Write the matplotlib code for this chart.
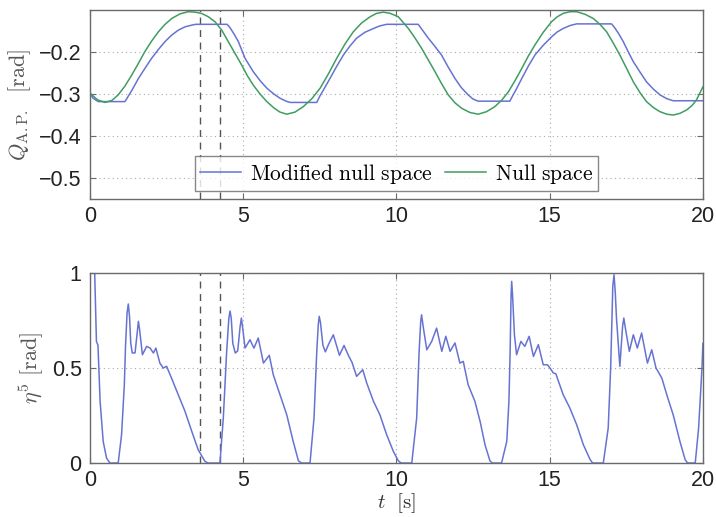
import numpy as np
import matplotlib
matplotlib.use("Agg")
import matplotlib.pyplot as plt

plt.rcParams['font.family'] = ['Liberation Sans', 'DejaVu Sans']
plt.rcParams['mathtext.fontset'] = 'cm'

#-------------------------------------------------------------------------------
# DATA
t_green = [0.0, 0.25, 0.49, 0.72, 0.92, 1.14, 1.36, 1.58, 1.79, 2.01, 2.23, 2.45,
           2.67, 2.94, 3.21, 3.43, 3.64, 3.86, 4.08, 4.30, 4.51, 4.73, 4.95, 5.14,
           5.33, 5.55, 5.77, 6.00, 6.20, 6.42, 6.69, 6.96, 7.24, 7.51, 7.78, 8.05,
           8.32, 8.59, 8.86, 9.14, 9.35, 9.57, 9.80, 10.06, 10.39, 10.60, 10.82,
           11.04, 11.26, 11.47, 11.69, 11.91, 12.13, 12.40, 12.67, 12.94, 13.21,
           13.43, 13.65, 13.87, 14.09, 14.30, 14.52, 14.79, 15.06, 15.25, 15.44,
           15.66, 15.88, 16.15, 16.42, 16.64, 16.86, 17.07, 17.29, 17.51, 17.73,
           17.95, 18.16, 18.38, 18.60, 18.82, 19.03, 19.25, 19.47, 19.65, 19.79, 20.0]
q_green = [-0.298, -0.314, -0.320, -0.315, -0.302, -0.281, -0.255, -0.227, -0.199,
           -0.174, -0.152, -0.134, -0.120, -0.109, -0.104, -0.105, -0.108, -0.116,
           -0.128, -0.148, -0.175, -0.203, -0.231, -0.257, -0.279, -0.300, -0.318,
           -0.333, -0.343, -0.348, -0.343, -0.330, -0.311, -0.286, -0.252, -0.215,
           -0.181, -0.152, -0.131, -0.116, -0.108, -0.105, -0.108, -0.116, -0.144,
           -0.166, -0.191, -0.219, -0.247, -0.275, -0.302, -0.321, -0.334, -0.344,
           -0.348, -0.342, -0.330, -0.315, -0.295, -0.268, -0.239, -0.210, -0.183,
           -0.153, -0.128, -0.116, -0.108, -0.104, -0.104, -0.110, -0.120, -0.134,
           -0.152, -0.178, -0.207, -0.239, -0.271, -0.297, -0.318, -0.332, -0.342,
           -0.348, -0.350, -0.346, -0.338, -0.327, -0.314, -0.283]

t_blue = [0.0, 0.10, 0.27, 1.14, 1.36, 1.58, 1.80, 2.01, 2.23, 2.45, 2.66, 2.88,
          3.10, 3.32, 3.45, 4.47, 4.55, 4.70, 4.84, 5.06, 5.33, 5.55, 5.77, 6.00,
          6.20, 6.40, 6.53, 7.40, 7.50, 7.62, 7.83, 8.05, 8.27, 8.48, 8.70, 8.97,
          9.25, 9.45, 9.68, 10.71, 10.80, 11.04, 11.25, 11.47, 11.69, 11.91, 12.12,
          12.34, 12.50, 12.67, 13.70, 13.80, 13.90, 14.09, 14.30, 14.52, 14.79,
          15.06, 15.25, 15.44, 15.66, 15.88, 17.02, 17.10, 17.25, 17.40, 17.56,
          17.73, 17.95, 18.16, 18.38, 18.60, 18.82, 19.03, 20.0]
q_blue = [-0.298, -0.310, -0.318, -0.318, -0.292, -0.263, -0.238, -0.215, -0.194,
          -0.175, -0.160, -0.148, -0.140, -0.136, -0.134, -0.134, -0.140, -0.157,
          -0.175, -0.215, -0.247, -0.268, -0.286, -0.300, -0.310, -0.317, -0.320,
          -0.320, -0.305, -0.290, -0.263, -0.234, -0.207, -0.186, -0.167, -0.153,
          -0.144, -0.138, -0.134, -0.134, -0.143, -0.167, -0.186, -0.207, -0.236,
          -0.263, -0.285, -0.302, -0.312, -0.317, -0.317, -0.303, -0.290, -0.263,
          -0.234, -0.207, -0.184, -0.164, -0.152, -0.144, -0.137, -0.133, -0.133,
          -0.140, -0.156, -0.175, -0.199, -0.223, -0.248, -0.271, -0.288, -0.302,
          -0.311, -0.316, -0.316]

t_eta = [0.15, 0.21, 0.26, 0.33, 0.43, 0.54, 0.65, 0.92, 1.03, 1.12, 1.16, 1.21,
         1.25, 1.29, 1.33, 1.38, 1.47, 1.55, 1.58, 1.62, 1.71, 1.85, 1.96, 2.07,
         2.15, 2.28, 2.39, 2.50, 2.66, 2.88, 3.10, 3.32, 3.53, 3.75, 3.85, 4.24,
         4.35, 4.46, 4.53, 4.57, 4.61, 4.66, 4.74, 4.82, 4.90, 4.94, 4.99, 5.06,
         5.22, 5.35, 5.49, 5.66, 5.85, 5.98, 6.20, 6.42, 6.63, 6.80, 6.90, 7.18,
         7.31, 7.40, 7.45, 7.48, 7.52, 7.60, 7.68, 7.78, 7.94, 8.14, 8.29, 8.43,
         8.55, 8.70, 8.90, 9.03, 9.25, 9.46, 9.68, 9.90, 10.06, 10.15, 10.50,
         10.66, 10.74, 10.79, 10.82, 10.88, 10.99, 11.15, 11.31, 11.48, 11.61,
         11.75, 11.91, 12.07, 12.18, 12.34, 12.56, 12.73, 12.89, 13.05, 13.12,
         13.43, 13.60, 13.67, 13.71, 13.74, 13.76, 13.79, 13.85, 13.92, 14.06,
         14.19, 14.33, 14.47, 14.63, 14.79, 14.93, 15.01, 15.12, 15.20, 15.44,
         15.66, 15.88, 16.10, 16.32, 16.40, 16.75, 16.91, 16.99, 17.06, 17.10,
         17.14, 17.18, 17.29, 17.38, 17.42, 17.47, 17.60, 17.73, 17.86, 18.00,
         18.19, 18.33, 18.47, 18.66, 18.82, 19.03, 19.25, 19.42, 19.50, 19.75,
         19.86, 19.97, 20.0]
eta = [1.02, 0.64, 0.62, 0.325, 0.114, 0.026, 0.0, 0.0, 0.149, 0.41, 0.62, 0.79,
       0.837, 0.77, 0.63, 0.579, 0.58, 0.70, 0.746, 0.70, 0.570, 0.614, 0.605,
       0.579, 0.605, 0.526, 0.50, 0.509, 0.447, 0.360, 0.272, 0.167, 0.070, 0.009,
       0.0, 0.0, 0.237, 0.588, 0.76, 0.80, 0.76, 0.63, 0.579, 0.59, 0.72, 0.763,
       0.70, 0.605, 0.649, 0.605, 0.658, 0.526, 0.567, 0.465, 0.36, 0.254, 0.114,
       0.012, 0.0, 0.0, 0.237, 0.588, 0.73, 0.772, 0.74, 0.62, 0.585, 0.623,
       0.675, 0.567, 0.619, 0.567, 0.53, 0.456, 0.491, 0.421, 0.325, 0.254,
       0.149, 0.061, 0.012, 0.0, 0.0, 0.237, 0.588, 0.74, 0.78, 0.71, 0.596, 0.64,
       0.71, 0.588, 0.667, 0.588, 0.632, 0.526, 0.535, 0.412, 0.325, 0.219,
       0.096, 0.012, 0.0, 0.0, 0.114, 0.325, 0.588, 0.88, 0.956, 0.88, 0.675,
       0.57, 0.64, 0.614, 0.667, 0.561, 0.623, 0.517, 0.517, 0.50, 0.474, 0.47,
       0.36, 0.289, 0.202, 0.096, 0.018, 0.0, 0.0, 0.184, 0.5, 0.93, 0.991, 0.90,
       0.763, 0.509, 0.72, 0.763, 0.71, 0.588, 0.675, 0.605, 0.684, 0.526, 0.596,
       0.50, 0.447, 0.36, 0.254, 0.114, 0.018, 0.0, 0.0, 0.184, 0.5, 0.63]

t_marks = [3.6, 4.25]          # dashed vertical lines
xticks = [0, 5, 10, 15, 20]
yticks_top = [-0.5, -0.4, -0.3, -0.2]
yticks_bot = [0, 0.5, 1]

blue = '#6673d2'
green = '#3f9d61'
frame = '#6a6a6a'
#-------------------------------------------------------------------------------


#-------------------------------------------------------------------------------
# AND PLOT !
fig = plt.figure(figsize=(7.16, 5.17), dpi=100)
ax1 = fig.add_axes([0.1257, 0.615, 0.856, 0.3656])
ax2 = fig.add_axes([0.1257, 0.1044, 0.856, 0.3675])

for ax in (ax1, ax2):
    ax.grid(True, linestyle=(0, (1, 3)), color='#aaaaaa', linewidth=0.8)
    for tm in t_marks:
        ax.axvline(tm, color='#555555', linestyle=(0, (5, 4)), linewidth=1.0)
    ax.set_xlim(0, 20)
    ax.set_xticks(xticks)
    ax.tick_params(direction='in', top=True, right=True, length=4,
                   labelsize=15.5, color=frame, labelcolor='#222222', pad=6)
    ax.tick_params(axis='x', pad=5)
    for s in ax.spines.values():
        s.set_color(frame)
        s.set_linewidth(1.0)

ax1.plot(t_blue, q_blue, color=blue, linewidth=1.1, label=r'$\mathrm{Modified\ null\ space}$')
ax1.plot(t_green, q_green, color=green, linewidth=1.1, label=r'$\mathrm{Null\ space}$')
ax1.set_ylim(-0.55, -0.1)
ax1.set_yticks(yticks_top)
ax1.set_yticklabels(['\u22120.5', '\u22120.4', '\u22120.3', '\u22120.2'])
ax1.set_ylabel(r'$Q_{\mathrm{A.P.}}\ \ [\mathrm{rad}]$', fontsize=16, color='#555555')
leg = ax1.legend(loc='lower center', bbox_to_anchor=(0.5, 0.02), ncol=2,
                 fontsize=15.5, frameon=True, fancybox=False, handlelength=1.9,
                 borderpad=0.25, columnspacing=0.6, handletextpad=0.4,
                 borderaxespad=0.2)
leg.get_frame().set_edgecolor(frame)
leg.get_frame().set_linewidth(1.0)

ax2.plot(t_eta, eta, color=blue, linewidth=1.1)
ax2.set_ylim(0, 1)
ax2.set_yticks(yticks_bot)
ax2.set_yticklabels(['0', '0.5', '1'])
ax2.set_ylabel(r'$\eta^5\ [\mathrm{rad}]$', fontsize=16, color='#555555')
ax2.set_xlabel(r'$t\ \ [\mathrm{s}]$', fontsize=15, color='#333333', labelpad=0)

plt.savefig("out.png")
plt.close()
